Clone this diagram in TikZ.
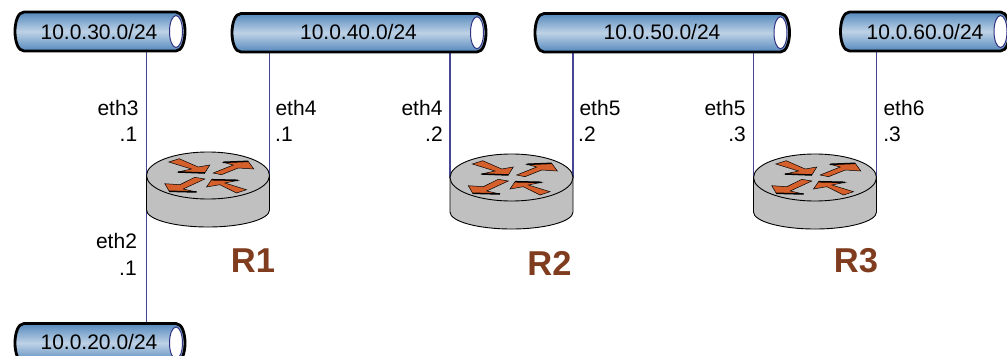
\documentclass[tikz,border=0pt]{standalone}
\usepackage{fontspec}
\usetikzlibrary{backgrounds}
\setmainfont{Liberation Sans}
\definecolor{netblue}{RGB}{84,136,188}
\definecolor{netlight}{RGB}{190,210,230}
\definecolor{ringblue}{RGB}{50,50,130}
\definecolor{wireblue}{RGB}{70,70,150}
\definecolor{routergrey}{RGB}{192,192,192}
\definecolor{arrowor}{RGB}{214,96,44}
\definecolor{labelbrown}{RGB}{128,60,30}
\tikzset{
  x=1pt,y=-1pt,
  wire/.style={draw=wireblue,line width=1.1pt},
  iflabel/.style={font=\fontsize{21}{21}\selectfont,inner sep=0pt,anchor=base},
  rlabel/.style={font=\fontsize{34.5}{34.5}\selectfont\bfseries,text=labelbrown,inner sep=0pt,anchor=base},
  nettext/.style={font=\fontsize{21}{21}\selectfont,inner sep=0pt,anchor=base},
  netanchor/.style={inner sep=0pt,outer sep=0pt},
  rout/.style={inner sep=0pt,outer sep=0pt,minimum width=123pt,minimum height=47pt,anchor=north west},
  rarrow/.style={fill=arrowor,draw=black,line width=0.5pt,line join=miter},
  rshadow/.style={draw=black,line width=1.5pt}
}
% name, x1, x2, ytop, ybot, label, label-x, baseline
\newcommand{\netcyl}[8]{%
  \fill[top color=netblue,bottom color=netblue,middle color=netlight,draw=black,line width=2.8pt]
    (#2+9,#4) -- (#3-9,#4) .. controls (#3+3,#4) and (#3+3,#5) .. (#3-9,#5) -- (#2+9,#5)
    .. controls (#2-3,#5) and (#2-3,#4) .. (#2+9,#4) -- cycle;
  \fill[white,draw=ringblue,line width=1pt] (#3-9,{(#4+#5)/2}) ellipse[x radius=6.5,y radius=16];
  \node[netanchor,minimum height=#5-#4,minimum width=#3-#2,anchor=north west] (#1) at (#2,#4) {};
  \node[nettext] (#1t) at (#7,#8) {#6};
}
% name, left x, top y
\newcommand{\routersym}[3]{%
  \begin{scope}[shift={(#2,#3)}]
    \fill[routergrey,draw=black,line width=0.9pt]
      (0,23.5) -- (0,58) .. controls (0,67.4) and (27.5,75) .. (61.5,75)
      .. controls (95.5,75) and (123,67.4) .. (123,58) -- (123,23.5) -- cycle;
    \fill[routergrey,draw=black,line width=0.9pt] (61.5,23.5) ellipse[x radius=61.5,y radius=23.5];
    \path[rarrow] (22.3,10) -- (32.7,6.7) -- (51.7,15) -- (63.3,13) -- (58.3,21) -- (31.7,20) -- (45,17) -- cycle;
    \draw[rshadow] (31.7,20) -- (58.3,21);
    \path[rarrow] (66.7,21) -- (75,22.7) -- (91.7,16) -- (107.3,17) -- (101.7,9.3) -- (76.7,10.3) -- (86.7,13) -- cycle;
    \draw[rshadow] (76.7,10.3) -- (101.7,9.3);
    \path[rarrow] (58.3,27) -- (48.3,25.3) -- (33.3,32.7) -- (18.3,31.7) -- (22.7,39.3) -- (50,40) -- (36.7,37) -- cycle;
    \draw[rshadow] (22.7,39.3) -- (50,40);
    \path[rarrow] (100,37.7) -- (90,41) -- (73.3,32.7) -- (60,35) -- (65,27.7) -- (91.7,28.3) -- (78.3,31) -- cycle;
    \draw[rshadow] (65,27.7) -- (91.7,28.3);
  \end{scope}
  \node[rout] (#1) at (#2,#3) {};
}
\begin{document}
\begin{tikzpicture}
\useasboundingbox (0,0) rectangle (1007,356);
\routersym{r1}{146.5}{152}
\routersym{r2}{450}{154}
\routersym{r3}{753.5}{154}
\netcyl{n30}{15}{185}{12}{51}{10.0.30.0/24}{99}{39.5}
\netcyl{n40}{232}{486}{13.5}{52}{10.0.40.0/24}{358.5}{39.5}
\netcyl{n50}{535}{789.5}{13.5}{52}{10.0.50.0/24}{662}{39.5}
\netcyl{n60}{840.5}{1009.5}{12}{51}{10.0.60.0/24}{925}{39.5}
\netcyl{n20}{15}{185}{323.5}{362.5}{10.0.20.0/24}{99}{349.5}
\begin{scope}[on background layer]
\draw[wire] (n30.south -| r1.west) -- (n20.north -| r1.west);
\draw[wire] (n40.south -| r1.east) -- (r1.east);
\draw[wire] (n40.south -| r2.west) -- (r2.west);
\draw[wire] (n50.south -| r2.east) -- (r2.east);
\draw[wire] (n50.south -| r3.west) -- (r3.west);
\draw[wire] (n60.south -| r3.east) -- (r3.east);
\end{scope}
\node[iflabel] (l1) at (118,115) {eth3};
\node[iflabel] (l2) at (128.5,141) {.1};
\node[iflabel] (l3) at (296,115) {eth4};
\node[iflabel] (l4) at (284,141) {.1};
\node[iflabel] (l5) at (422,115) {eth4};
\node[iflabel] (l6) at (434,141) {.2};
\node[iflabel] (l7) at (600,115) {eth5};
\node[iflabel] (l8) at (587,141) {.2};
\node[iflabel] (l9) at (725,115) {eth5};
\node[iflabel] (l10) at (737,141) {.3};
\node[iflabel] (l11) at (904,115) {eth6};
\node[iflabel] (l12) at (892,141) {.3};
\node[iflabel] (l13) at (116.5,248.5) {eth2};
\node[iflabel] (l14) at (128,275) {.1};
\node[rlabel] (R1) at (253,272.5) {R1};
\node[rlabel] (R2) at (549.5,275.5) {R2};
\node[rlabel] (R3) at (856,272.5) {R3};
\end{tikzpicture}
\end{document}
